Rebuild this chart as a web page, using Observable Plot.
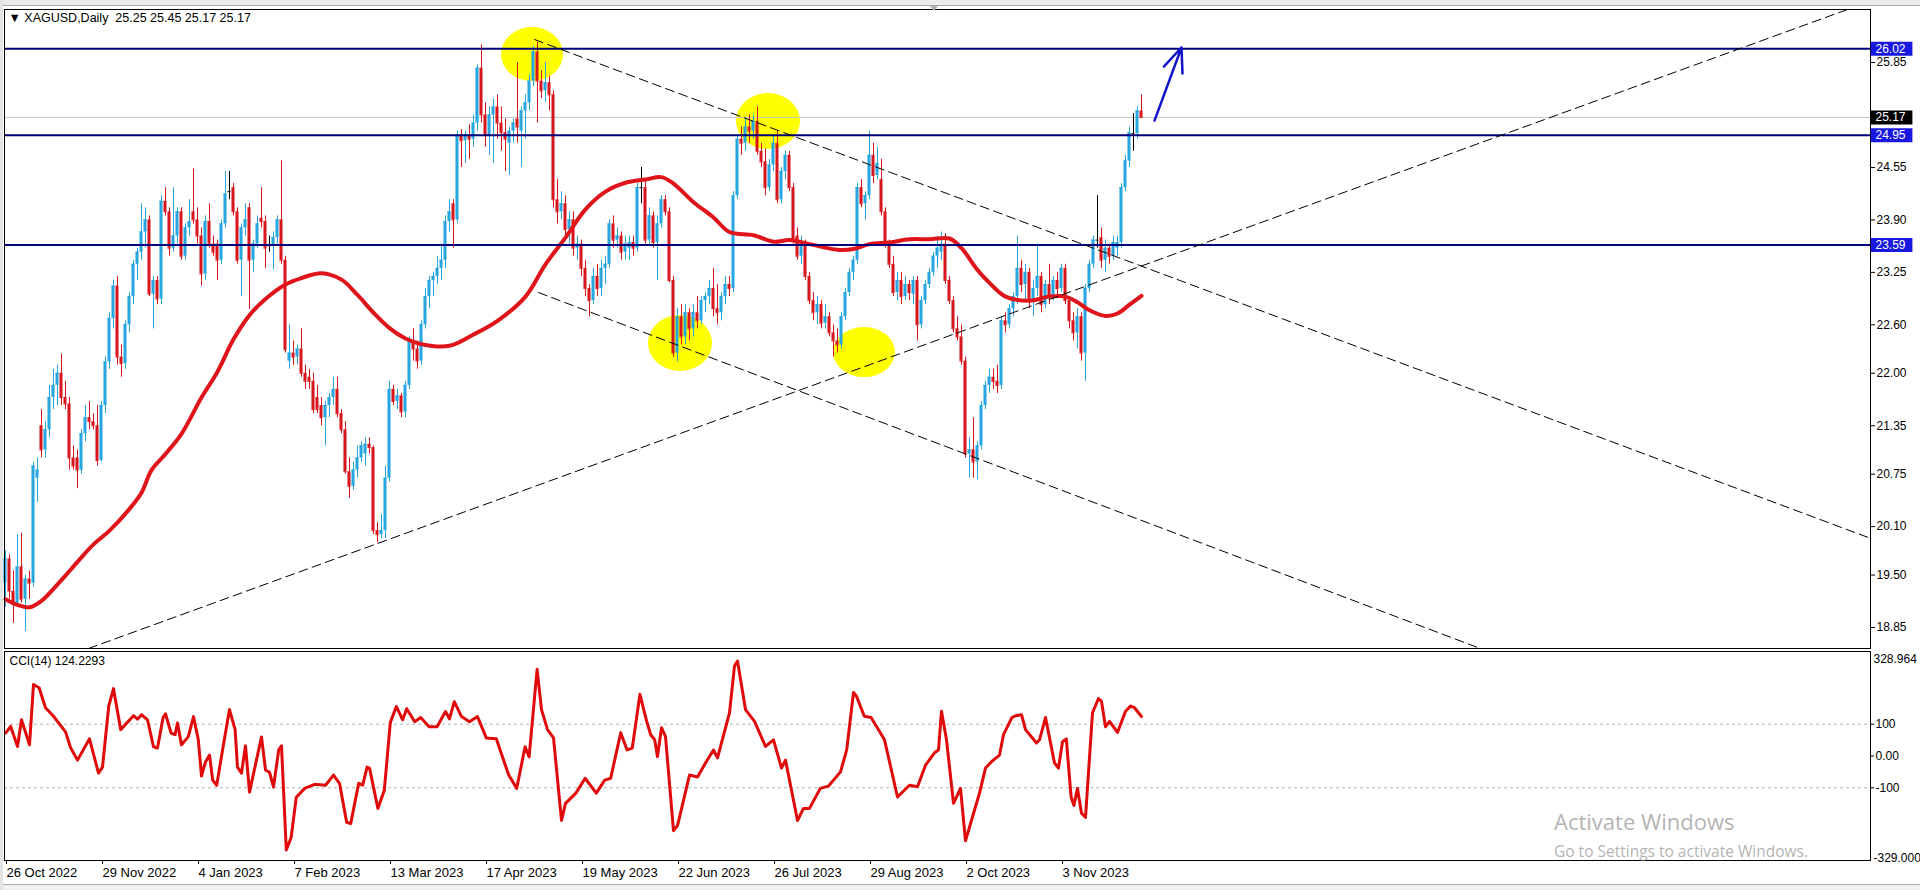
<!DOCTYPE html>
<html><head><meta charset="utf-8">
<script src="https://cdn.jsdelivr.net/npm/d3@7"></script>
<script src="https://cdn.jsdelivr.net/npm/@observablehq/plot@0.6"></script>
<style>
html,body{margin:0;padding:0;background:#fff;overflow:hidden}
#wrap{position:relative;width:1920px;height:890px;overflow:hidden;background:#fff}
#main,#ind{position:absolute;left:0}
#main{top:0}
#ind{top:649px}
#main svg,#ind svg{display:block}
.topbar{position:absolute;left:0;top:0;width:1920px;height:5px;background:#ececec;border-bottom:1px solid #a8a8a8}
.shift{position:absolute;left:930px;top:6px;width:0;height:0;border-left:4px solid transparent;border-right:4px solid transparent;border-top:5px solid #b0b0b0}
.botbar{position:absolute;left:0;top:884px;width:1920px;height:6px;background:#f0f0f0;border-top:1px solid #a8a8a8}
.leftbar{position:absolute;left:0;top:0;width:3px;height:890px;background:#e4e4e4}
.wm1{position:absolute;left:1554px;top:806px;font-family:"Open Sans","Noto Sans",sans-serif;font-size:22px;color:rgba(128,128,128,0.62);white-space:nowrap}
.wm2{position:absolute;left:1554px;top:840px;font-family:"Open Sans","Noto Sans",sans-serif;font-size:15.5px;color:rgba(128,128,128,0.62);white-space:nowrap}
</style></head>
<body><div id="wrap"><div id="main"></div><div id="ind"></div>
<div class="topbar"></div><div class="shift"></div><div class="botbar"></div><div class="leftbar"></div>
<div class="wm1" id="wm1"></div><div class="wm2" id="wm2"></div></div>
<script>
// ---------- DATA ----------
const titleText = "▼ XAGUSD,Daily  25.25 25.45 25.17 25.17";
const cciTitle = "CCI(14) 124.2293";
const watermark = ["Activate Windows", "Go to Settings to activate Windows."];

// daily candles [open, high, low, close], one per bar (bar index = position)
const ohlc = [
[19.40,19.80,19.10,19.70],[19.70,19.75,19.20,19.30],[19.30,19.55,18.90,19.15],[19.15,20.00,19.10,19.60],[19.60,20.02,19.15,19.20],
[19.20,19.50,18.80,19.45],[19.45,19.55,19.20,19.40],[19.40,20.90,19.35,20.85],[20.70,20.95,20.40,20.80],[21.35,21.55,20.95,21.05],
[21.05,21.40,20.95,21.30],[21.30,21.85,21.20,21.70],[21.70,22.05,21.55,21.85],[21.85,22.10,21.60,22.00],[22.00,22.24,21.60,21.70],
[21.70,21.90,21.55,21.62],[21.62,21.70,20.80,20.95],[20.95,21.10,20.80,20.85],[20.95,21.05,20.57,20.80],[20.80,21.30,20.75,21.25],
[21.25,21.60,21.15,21.45],[21.45,21.65,21.30,21.40],[21.40,21.50,21.30,21.35],[21.35,21.60,20.85,20.92],[20.92,21.65,20.90,21.60],
[21.60,22.20,21.50,22.14],[22.14,22.75,22.05,22.68],[22.68,23.15,22.55,23.08],[23.08,23.20,22.10,22.20],[22.20,22.35,21.95,22.12],
[22.12,22.65,22.05,22.60],[22.60,23.00,22.50,22.95],[22.95,23.40,22.85,23.35],[23.35,23.55,23.15,23.50],[23.50,24.10,23.40,23.75],
[23.75,24.05,23.55,23.90],[23.90,23.95,22.95,22.98],[22.98,23.20,22.55,23.15],[23.15,23.20,22.85,22.92],[22.92,24.20,22.85,24.13],
[24.13,24.30,23.95,24.00],[24.00,24.05,23.45,23.55],[23.55,24.30,23.50,23.70],[23.70,24.05,23.60,24.00],[24.00,24.05,23.40,23.45],
[23.45,23.85,23.40,23.80],[23.80,24.15,23.70,23.88],[24.00,24.53,23.85,23.90],[23.90,24.05,23.60,23.70],[23.70,23.80,23.08,23.23],
[23.23,23.95,23.15,23.88],[23.88,24.10,23.55,23.60],[23.60,23.70,23.45,23.50],[23.60,23.65,23.15,23.40],[23.40,23.90,23.35,23.85],
[23.85,24.50,23.80,24.22],[24.25,24.50,24.15,24.25],[24.30,24.35,23.95,24.00],[24.00,24.05,23.35,23.40],[23.40,23.85,22.95,23.80],
[23.80,24.10,23.70,23.90],[24.05,24.10,22.79,23.40],[23.40,23.65,23.25,23.60],[23.60,23.95,23.55,23.85],[23.92,24.30,23.80,23.88],
[23.88,23.95,23.30,23.55],[23.58,23.70,23.50,23.58],[23.58,23.75,23.28,23.68],[23.68,23.95,23.60,23.90],[23.90,24.63,23.35,23.40],
[23.40,23.45,22.25,22.29],[22.15,22.60,22.05,22.25],[22.25,22.40,22.10,22.20],[22.20,22.35,22.10,22.30],[22.30,22.55,21.95,22.00],
[22.00,22.10,21.80,21.90],[21.95,22.05,21.80,21.90],[21.90,22.00,21.50,21.55],[21.70,21.85,21.50,21.55],[21.60,21.70,21.35,21.45],
[21.45,21.65,21.10,21.60],[21.60,21.75,21.45,21.70],[21.70,21.95,21.60,21.80],[21.80,21.95,21.45,21.50],[21.50,21.55,21.25,21.30],
[21.30,21.40,20.75,20.78],[20.78,20.95,20.45,20.60],[20.60,20.90,20.55,20.80],[20.80,21.10,20.70,20.95],[20.95,21.15,20.90,21.10],
[21.00,21.20,20.85,21.12],[21.12,21.20,21.00,21.08],[21.08,21.10,20.00,20.05],[20.05,20.15,19.90,20.00],[20.00,20.25,19.95,20.05],
[20.05,20.85,19.95,20.70],[20.70,21.90,20.65,21.80],[21.80,21.85,21.60,21.65],[21.65,21.80,21.55,21.72],[21.72,21.75,21.45,21.52],
[21.52,21.90,21.45,21.85],[21.85,22.45,21.80,22.40],[22.40,22.55,22.15,22.30],[22.30,22.40,22.05,22.15],[22.15,22.65,22.10,22.60],
[22.60,23.05,22.55,22.95],[22.95,23.20,22.80,23.15],[23.15,23.25,22.95,23.20],[23.20,23.45,23.10,23.30],[23.30,23.60,23.15,23.40],
[23.40,23.95,23.30,23.88],[23.88,24.15,23.75,24.00],[24.10,24.15,23.55,23.90],[23.90,25.00,23.85,24.95],[24.95,25.02,24.55,24.88],
[24.88,25.00,24.60,24.95],[24.95,25.08,24.65,24.90],[24.90,25.20,24.80,25.10],[25.10,25.82,25.00,25.78],[25.78,26.07,25.10,25.20],
[25.20,25.35,24.80,24.95],[24.95,25.30,24.70,25.20],[25.20,25.40,24.60,25.30],[25.30,25.45,24.90,25.10],[25.10,25.30,24.75,24.98],
[24.98,25.15,24.50,24.90],[24.85,25.05,24.45,25.00],[25.00,25.15,24.85,25.10],[25.15,25.85,24.85,25.05],[25.00,25.30,24.55,25.25],
[25.25,25.45,24.90,25.35],[25.35,25.70,25.25,25.62],[25.62,26.05,25.55,25.98],[25.98,26.10,25.10,25.62],[25.62,25.75,25.40,25.50],
[25.50,25.85,25.35,25.60],[25.60,25.68,25.25,25.45],[25.45,25.50,24.05,24.15],[24.15,24.40,23.85,24.00],[24.00,24.25,23.90,24.10],
[24.10,24.20,23.70,23.78],[23.78,24.00,23.60,23.90],[23.90,24.00,23.45,23.55],[23.55,23.70,23.40,23.60],[23.60,23.65,23.20,23.30],
[23.30,23.40,22.95,23.05],[23.05,23.10,22.70,22.90],[22.90,23.30,22.85,23.20],[23.20,23.35,22.95,23.05],[23.05,23.40,22.95,23.30],
[23.30,23.45,23.10,23.35],[23.35,23.90,23.30,23.85],[23.85,23.95,23.55,23.65],[23.65,23.80,23.55,23.70],[23.70,23.75,23.40,23.50],
[23.50,23.70,23.40,23.60],[23.55,23.70,23.40,23.62],[23.62,23.70,23.45,23.55],[23.55,24.35,23.50,24.30],[24.30,24.55,24.10,24.30],
[24.30,24.40,23.60,23.65],[23.65,24.05,23.60,23.95],[23.95,24.00,23.55,23.62],[23.62,23.95,23.15,23.85],[23.85,24.20,23.80,24.15],
[24.15,24.20,23.95,24.00],[24.00,24.05,23.12,23.15],[23.15,23.20,22.20,22.25],[22.25,22.80,22.14,22.70],[22.70,22.85,22.35,22.45],
[22.45,22.85,22.35,22.75],[22.75,22.80,22.40,22.55],[22.55,22.85,22.45,22.75],[22.75,22.95,22.55,22.65],[22.65,22.95,22.60,22.90],
[22.90,23.00,22.75,22.95],[22.95,23.15,22.85,23.05],[23.05,23.30,22.70,22.80],[22.80,23.10,22.60,22.75],[22.75,23.00,22.65,22.95],
[22.95,23.20,22.85,23.10],[23.10,23.20,22.95,23.05],[23.05,24.25,23.00,24.20],[24.20,24.95,24.15,24.90],[24.90,25.05,24.70,24.85],
[24.85,25.15,24.75,25.05],[25.05,25.20,24.85,25.00],[25.00,25.20,24.90,25.12],[25.12,25.30,24.70,24.75],[24.75,24.85,24.55,24.62],
[24.62,24.78,24.20,24.30],[24.30,24.65,24.25,24.58],[24.58,24.95,24.50,24.85],[24.85,25.00,24.10,24.15],[24.15,24.55,24.10,24.50],
[24.50,24.75,24.40,24.70],[24.70,24.75,24.25,24.30],[24.30,24.35,23.60,23.65],[23.70,23.80,23.40,23.45],[23.45,23.70,23.35,23.60],
[23.60,23.65,23.15,23.20],[23.20,23.25,22.85,22.90],[22.90,23.00,22.65,22.75],[22.75,22.95,22.60,22.85],[22.85,22.90,22.55,22.62],
[22.62,22.85,22.55,22.70],[22.70,22.75,22.45,22.50],[22.50,22.60,22.20,22.40],[22.40,22.55,22.25,22.35],[22.35,22.75,22.30,22.70],
[22.70,23.05,22.65,23.00],[23.00,23.30,22.95,23.25],[23.25,23.45,23.15,23.40],[23.40,24.35,23.35,24.30],[24.30,24.40,24.05,24.10],
[24.10,24.25,23.90,24.20],[24.20,25.00,24.15,24.70],[24.70,24.85,24.35,24.45],[24.45,24.80,24.40,24.60],[24.40,24.65,23.95,24.00],
[24.00,24.05,23.55,23.60],[23.60,23.65,23.30,23.35],[23.35,23.45,22.95,23.00],[23.00,23.25,22.90,23.15],[23.15,23.25,22.85,22.95],
[22.95,23.20,22.90,23.10],[23.10,23.15,22.90,23.00],[22.98,23.20,22.85,23.15],[23.15,23.20,22.40,22.60],[22.60,22.95,22.55,22.90],
[22.90,23.15,22.85,23.10],[23.10,23.30,23.05,23.25],[23.25,23.50,23.20,23.45],[23.45,23.70,23.30,23.55],[23.50,23.75,23.40,23.60],
[23.60,23.73,23.10,23.15],[23.15,23.20,22.85,22.90],[22.90,22.95,22.50,22.55],[22.55,22.70,22.40,22.45],[22.45,22.60,22.10,22.15],
[22.15,22.20,20.95,21.00],[21.00,21.20,20.70,21.05],[21.05,21.45,20.70,20.90],[20.90,21.15,20.68,21.10],[21.10,21.65,21.05,21.60],
[21.60,21.90,21.55,21.85],[21.85,22.05,21.75,21.95],[21.95,22.05,21.80,21.90],[21.90,22.10,21.75,21.85],[21.85,22.70,21.80,22.65],
[22.65,22.75,22.50,22.60],[22.60,22.85,22.55,22.80],[22.80,23.00,22.70,22.95],[22.95,23.70,22.85,23.30],[23.30,23.40,23.00,23.10],
[23.10,23.35,22.90,23.25],[23.25,23.30,22.80,22.90],[22.90,23.15,22.70,23.05],[23.05,23.60,22.95,23.20],[23.20,23.25,22.75,22.85],
[22.85,23.15,22.80,23.10],[23.10,23.35,22.85,22.95],[22.95,23.20,22.90,23.15],[23.15,23.25,22.95,23.05],[23.05,23.35,23.00,23.30],
[23.30,23.35,22.85,22.90],[22.90,22.95,22.55,22.65],[22.65,22.75,22.40,22.50],[22.50,22.80,22.30,22.70],[22.70,22.75,22.15,22.25],
[22.25,23.10,21.90,23.05],[23.05,23.40,23.00,23.35],[23.35,23.70,23.30,23.65],[23.65,24.20,23.55,23.65],[23.68,23.80,23.30,23.40],
[23.40,23.65,23.25,23.55],[23.55,23.60,23.35,23.45],[23.45,23.70,23.40,23.62],[23.55,23.70,23.45,23.62],[23.62,24.35,23.55,24.30],
[24.30,24.70,24.25,24.63],[24.63,25.05,24.55,24.98],[24.97,25.22,24.75,24.97],[24.97,25.30,24.90,25.25],[25.25,25.45,25.17,25.17]
];

// moving average: [bar, price]
const movingAvg = [[0,19.2],[3,19.13],[6,19.1],[9,19.18],[12,19.33],[16,19.55],[19,19.72],[22,19.88],[26,20.05],[31,20.32],[34,20.52],[36.5,20.8],[40,21.0],[44,21.25],[49,21.7],[53,22.02],[57,22.42],[61,22.72],[65,22.92],[70,23.1],[74,23.18],[79,23.24],[84,23.16],[88,22.97],[92,22.75],[96,22.56],[100,22.43],[104,22.36],[111,22.34],[117,22.48],[123,22.65],[130,22.95],[135,23.35],[140,23.68],[145,24.03],[150,24.25],[155,24.36],[160,24.4],[164,24.43],[167,24.35],[172,24.12],[177,23.93],[181,23.75],[187,23.71],[192,23.63],[196,23.65],[201,23.6],[208,23.53],[212,23.54],[216,23.6],[221,23.62],[226,23.66],[231,23.66],[236,23.67],[239,23.55],[243,23.28],[246,23.12],[250,22.95],[256,22.9],[261,22.95],[265,22.95],[268,22.88],[271,22.78],[275,22.71],[278,22.74],[281,22.85],[284,22.96]];

// CCI(14): [bar, value]
const cci = [[0,72],[1.3,93],[3,30],[4,114],[6,35],[7,225],[8.4,215],[10,152],[12,125],[15,76],[16.3,25],[18,-13],[21,54],[23.25,-54],[24.25,-35],[25.8,156],[27,212],[28.8,83],[32,127],[33,116],[34,130],[35.5,114],[37,29],[38,25],[39.4,121],[40,133],[41.4,72],[42.4,67],[43,104],[44,35],[45.7,61],[47,124],[48.2,51],[49,-63],[50,-19],[51,3],[51.8,-76],[52.8,-92],[54.4,29],[56,146],[57.4,83],[58,-35],[59,-54],[60,32],[61,-114],[64,60],[65,-44],[66,-51],[67,-98],[68.3,19],[69,32],[70.2,-296],[71.4,-257],[72.7,-130],[74.8,-102],[77.3,-89],[80,-92],[82,-60],[83.5,-86],[85.3,-209],[86.3,-213],[88.3,-86],[89.3,-92],[90.4,-35],[91,-38],[93.1,-165],[94.7,-108],[96.2,105],[97.7,156],[99.3,114],[100.3,149],[102.3,108],[103.8,121],[105.9,92],[107.9,92],[110,140],[111,117],[112.2,171],[114,124],[116,108],[118,124],[120.2,57],[122.7,54],[125.8,-60],[127.8,-102],[129.9,29],[130.9,-3],[132.9,273],[134,146],[135.5,83],[137,57],[139,-203],[140,-149],[142.6,-117],[144.9,-70],[147.7,-117],[149.8,-76],[151.3,-70],[153.8,73],[155.4,19],[156.7,25],[158.6,194],[160.3,109],[161.3,67],[162.3,51],[163,-2],[164,89],[165,61],[167,-235],[168,-219],[171,-60],[173,-66],[175,-22],[177,19],[178,-6],[181,136],[182.25,283],[183,299],[185,146],[187.25,109],[190,30],[192,51],[194,-38],[195,-13],[198,-203],[199.5,-165],[201,-165],[203.7,-102],[205.7,-95],[208.75,-50],[210.3,19],[212,200],[212.75,188],[214.7,125],[216.4,121],[219.75,51],[223,-129],[226,-92],[228,-97],[230,-29],[232.25,10],[233.25,19],[234,141],[235.25,51],[237,-149],[238.75,-102],[240,-267],[242,-181],[243.5,-117],[245,-38],[246.5,-18],[248.5,3],[249.5,67],[251.6,121],[252.6,127],[254,130],[255,83],[257.75,41],[258.5,51],[260,121],[262.25,-22],[263.25,-38],[264.25,45],[265.2,54],[266.4,-129],[267.1,-156],[268,-102],[269,-180],[270,-193],[271.75,136],[273.25,181],[274,172],[275,92],[276,109],[278,74],[280,141],[281.25,157],[282.25,152],[284,124.2293]];

const levels = [26.02, 24.95, 23.59];
const bidPrice = 25.17;
const priceTicks = [25.85, 24.55, 23.90, 23.25, 22.60, 22.00, 21.35, 20.75, 20.10, 19.50, 18.85];
const priceDomain = [18.59, 26.507];
const cciDomain = [-329.0, 328.964];
const cciLevels = [100, -100];
const cciTicks = [100, 0, -100];
const cciEdgeLabels = ["328.964", "-329.000"];
const barDomain = [-0.25, 466.25];
const dateTickBars = [0, 24, 48, 72, 96, 120, 144, 168, 192, 216, 240, 264];
const dateTickLabels = ["26 Oct 2022","29 Nov 2022","4 Jan 2023","7 Feb 2023","13 Mar 2023","17 Apr 2023","19 May 2023","22 Jun 2023","26 Jul 2023","29 Aug 2023","2 Oct 2023","3 Nov 2023"];

// dashed trend lines: [[bar, price], [bar, price]]
const trendLines = [
  [[20.75, 18.59], [460.5, 26.507]],
  [[132.25, 26.135], [466.25, 19.955]],
  [[133.25, 23.00], [370, 18.566]]
];
// yellow highlight marks: [centre bar, centre price, half width (bars), half height (price)]
const highlights = [[131.75, 25.949, 7.75, 0.335], [190.75, 25.119, 8, 0.347], [168.75, 22.369, 8, 0.347], [214.75, 22.257, 7.75, 0.31]];
// hand drawn arrow: [bar1, price1, bar2, price2]
const arrowPts = [287.25, 25.131, 294, 26.036];

// ---------- DRAW ----------
const BLUE = "#27a6e0", RED = "#d8161d", MA_RED = "#e0141b", NAVY = "#00007a";
const FONT = "'Liberation Sans', Arial, sans-serif";
const bars = ohlc.map(([o, h, l, c], i) => ({i, o, h, l, c, col: c > o ? BLUE : c < o ? RED : "#000000"}));
const tags = levels.map(v => ({v, bg: "#1818e0"})).concat([{v: bidPrice, bg: "#000000"}]);
const HW = 0.38;

const mainChart = Plot.plot({
  width: 1920, height: 650,
  marginLeft: 4, marginRight: 50, marginTop: 9, marginBottom: 2,
  x: {domain: barDomain, axis: null, label: null},
  y: {domain: priceDomain, label: null},
  color: {type: "identity"},
  style: {fontFamily: FONT, fontSize: "12px", background: "#fff", color: "#000"},
  marks: [
    Plot.rect(highlights, {x1: d => d[0] - d[2], x2: d => d[0] + d[2], y1: d => d[1] - d[3], y2: d => d[1] + d[3], fill: "#ffff00", rx: 1000, ry: 1000}),
    Plot.ruleY([bidPrice], {stroke: "#c4c4c4", strokeWidth: 1}),
    Plot.ruleX(bars, {x: "i", y1: "l", y2: "h", stroke: "col", strokeWidth: 1}),
    Plot.rect(bars, {x1: d => d.i - HW, x2: d => d.i + HW, y1: "o", y2: "c", fill: "col"}),
    Plot.ruleY(bars, {y: "c", x1: d => d.i - HW, x2: d => d.i + HW, stroke: "col", strokeWidth: 1}),
    Plot.line(movingAvg, {x: d => d[0], y: d => d[1], stroke: MA_RED, strokeWidth: 4, curve: "catmull-rom"}),
    Plot.ruleY(levels, {stroke: NAVY, strokeWidth: 2}),
    ...trendLines.map(t => Plot.line(t, {x: d => d[0], y: d => d[1], stroke: "#000", strokeWidth: 1, strokeDasharray: "9,5", clip: true})),
    Plot.arrow([arrowPts], {x1: d => d[0], y1: d => d[1], x2: d => d[2], y2: d => d[3], stroke: "#1414c8", strokeWidth: 2.5, headAngle: 45, headLength: 17, bend: 0}),
    Plot.frame({stroke: "#000", strokeWidth: 1}),
    Plot.axisY({anchor: "right", ticks: priceTicks, tickFormat: d => d.toFixed(2), tickSize: 4, tickPadding: 2, label: null, fontSize: 12}),
    Plot.ruleY(tags, {y: "v", x1: barDomain[1] + 0.2, x2: barDomain[1] + 10.6, stroke: "bg", strokeWidth: 14}),
    Plot.text(tags, {y: "v", x: barDomain[1], dx: 5, text: d => d.v.toFixed(2), fill: "#fff", textAnchor: "start", fontSize: 12}),
    Plot.text([titleText], {frameAnchor: "top-left", dx: 4, dy: 4, textAnchor: "start", fontSize: 12.5, fill: "#000"})
  ]
});
document.getElementById("main").appendChild(mainChart);

const cciChart = Plot.plot({
  width: 1920, height: 241,
  marginLeft: 4, marginRight: 50, marginTop: 2, marginBottom: 30,
  x: {domain: barDomain, label: null},
  y: {domain: cciDomain, label: null},
  style: {fontFamily: FONT, fontSize: "12px", background: "#fff", color: "#000"},
  marks: [
    Plot.ruleY(cciLevels, {stroke: "#b4b4b4", strokeDasharray: "3,3", strokeWidth: 1}),
    Plot.line(cci, {x: d => d[0], y: d => d[1], stroke: "#e00a0a", strokeWidth: 3}),
    Plot.frame({stroke: "#000", strokeWidth: 1}),
    Plot.axisY({anchor: "right", ticks: cciTicks, tickFormat: d => d === 0 ? "0.00" : String(d), tickSize: 3, tickPadding: 2, label: null, fontSize: 12}),
    Plot.text([cciEdgeLabels[0]], {frameAnchor: "top-right", dx: 3, dy: 3, textAnchor: "start", fontSize: 12}),
    Plot.text([cciEdgeLabels[1]], {frameAnchor: "bottom-right", dx: 3, dy: 1, textAnchor: "start", fontSize: 12}),
    Plot.text([cciTitle], {frameAnchor: "top-left", dx: 5, dy: 5, textAnchor: "start", fontSize: 12}),
    Plot.axisX({anchor: "bottom", ticks: dateTickBars, tickFormat: d => dateTickLabels[dateTickBars.indexOf(d)], tickSize: 4, tickPadding: 3, textAnchor: "start", dx: 1, label: null, fontSize: 13})
  ]
});
document.getElementById("ind").appendChild(cciChart);

document.getElementById("wm1").textContent = watermark[0];
document.getElementById("wm2").textContent = watermark[1];
</script>
</body></html>
